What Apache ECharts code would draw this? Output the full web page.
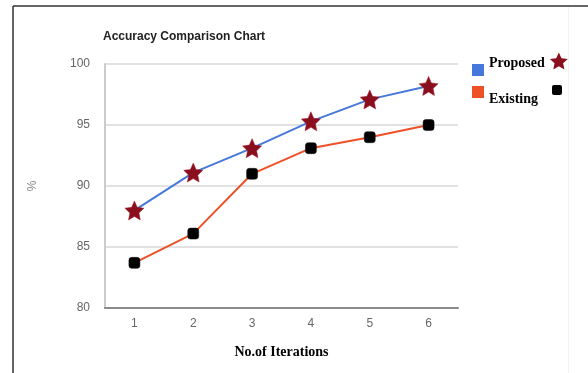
<!DOCTYPE html>
<html>
<head>
<meta charset="utf-8">
<script src="https://cdn.jsdelivr.net/npm/echarts@6/dist/echarts.min.js"></script>
<style>
html,body{margin:0;padding:0;background:#fff;}
#c{width:588px;height:373px;}
</style>
</head>
<body>
<div id="c"></div>
<script>
var categories = ['1', '2', '3', '4', '5', '6'];
var proposed = [88.0, 91.1, 93.1, 95.3, 97.1, 98.2];
var existing = [83.7, 86.1, 91.0, 93.1, 94.0, 95.0];
var yTicks = [80, 85, 90, 95, 100];

var STAR = 'path://M12,0.5 L15.23,7.55 L22.94,8.45 L17.23,13.7 L18.76,21.3 L12,17.5 L5.24,21.3 L6.77,13.7 L1.06,8.45 L8.77,7.55 Z';
var starColor = '#8a0f1e';
var blue = '#4678dc';
var orange = '#ee5128';

var chart = echarts.init(document.getElementById('c'), null, {renderer: 'canvas'});
chart.setOption({
  backgroundColor: '#ffffff',
  animation: false,
  title: {
    text: 'Accuracy Comparison Chart',
    left: 98, top: 26,
    textStyle: {fontFamily: 'Liberation Sans, Arial', fontSize: 12, fontWeight: 'bold', color: '#222'}
  },
  grid: {left: 105, right: 130, top: 64, bottom: 65},
  legend: {
    orient: 'vertical', left: 472, top: 50, itemGap: 10, padding: 0,
    itemWidth: 12, itemHeight: 26,
    itemStyle: {borderWidth: 0},
    textStyle: {fontFamily: 'Liberation Serif, Times New Roman', fontSize: 14, fontWeight: 'bold', color: '#000'},
    data: [
      {name: 'Proposed', icon: 'path://M0,0 L0.01,0 Z M0,14 L12,14 L12,26 L0,26 Z', itemStyle: {color: blue, borderWidth: 0}},
      {name: 'Existing', icon: 'path://M0,0 L12,0 L12,12 L0,12 Z M0,26 L0.01,26 Z', itemStyle: {color: orange, borderWidth: 0}}
    ]
  },
  xAxis: {
    type: 'category', data: categories, boundaryGap: true,
    name: 'No.of Iterations', nameLocation: 'middle', nameGap: 37,
    nameTextStyle: {fontFamily: 'Liberation Serif, Times New Roman', fontSize: 14, fontWeight: 'bold', color: '#000'},
    axisLine: {lineStyle: {color: '#8a8a8a', width: 2}},
    axisTick: {show: false},
    axisLabel: {margin: 10, color: '#666', fontFamily: 'Liberation Sans, Arial', fontSize: 12},
    splitLine: {show: false}
  },
  yAxis: {
    type: 'value', min: yTicks[0], max: yTicks[yTicks.length - 1], interval: 5,
    name: '%', nameLocation: 'middle', nameGap: 66, nameRotate: 90,
    nameTextStyle: {color: '#888', fontFamily: 'Liberation Sans, Arial', fontSize: 12},
    axisLine: {show: true, lineStyle: {color: '#cccccc', width: 2}},
    axisTick: {show: false},
    axisLabel: {margin: 15, color: '#666', fontFamily: 'Liberation Sans, Arial', fontSize: 12},
    splitLine: {lineStyle: {color: '#e2e2e2', width: 2}}
  },
  series: [
    {
      name: 'Proposed', type: 'line', data: proposed,
      lineStyle: {color: blue, width: 2},
      symbol: STAR, symbolSize: 19,
      itemStyle: {color: starColor, borderColor: '#a01828', borderWidth: 0.5},
      z: 3
    },
    {
      name: 'Existing', type: 'line', data: existing,
      lineStyle: {color: orange, width: 2},
      symbol: 'roundRect', symbolSize: 11,
      itemStyle: {color: '#000', borderColor: '#111', borderWidth: 0.5},
      z: 2
    }
  ],
  graphic: [
    {type: 'line', shape: {x1: 13, y1: 6, x2: 588, y2: 6}, style: {stroke: '#333', lineWidth: 1.5}},
    {type: 'line', shape: {x1: 13, y1: 6, x2: 13, y2: 373}, style: {stroke: '#333', lineWidth: 1.5}},
    {type: 'line', shape: {x1: 568.5, y1: 7, x2: 568.5, y2: 373}, style: {stroke: '#f2f2f2', lineWidth: 1}},
    {type: 'polygon', x: 549, y: 52, scaleX: 0.82, scaleY: 0.82,
      shape: {points: [[12,0.5],[15.23,7.55],[22.94,8.45],[17.23,13.7],[18.76,21.3],[12,17.5],[5.24,21.3],[6.77,13.7],[1.06,8.45],[8.77,7.55]]},
      style: {fill: starColor}},
    {type: 'rect', shape: {x: 552, y: 85, width: 10, height: 10, r: 2}, style: {fill: '#000'}}
  ]
});
</script>
</body>
</html>
